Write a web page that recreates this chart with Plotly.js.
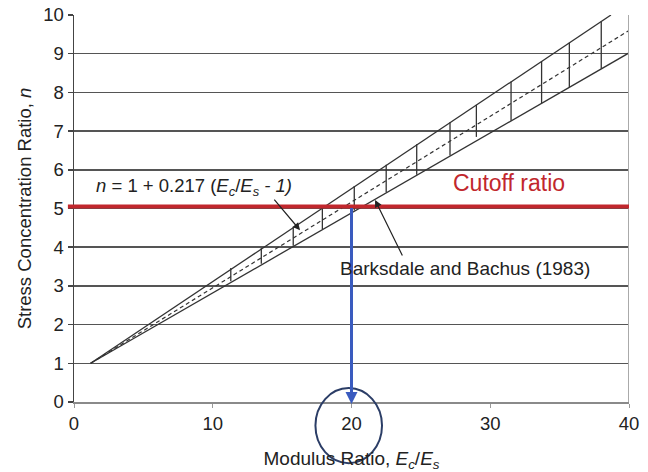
<!DOCTYPE html>
<html>
<head>
<meta charset="utf-8">
<script src="https://cdn.plot.ly/plotly-3.0.1.min.js"></script>
<style>html,body{margin:0;padding:0;background:#fff;}#chart{width:648px;height:472px;}</style>
</head>
<body>
<div id="chart"></div>
<script>
// Envelope lines (Barksdale and Bachus 1983)
const upperX = [1.2, 38.7];
const upperY = [1.0, 10.0];
const lowerX = [1.2, 40];
const lowerY = [1.0, 9.02];
// Fitted relation n = 1 + 0.217 (Ec/Es - 1), dashed
const fitX = [1.2, 40];
const fitY = [1.0, 9.6];
// Vertical range bars between envelopes
const segX    = [11.3, 13.5, 15.8, 17.9, 20.2, 22.5, 24.7, 27.1, 29.0, 31.5, 33.7, 35.7, 38.0];
const segLow  = [3.12, 3.57, 4.04, 4.47, 4.95, 5.42, 5.87, 6.37, 6.85, 7.27, 7.72, 8.13, 8.61];
const segHigh = [3.46, 3.98, 4.53, 5.03, 5.58, 6.13, 6.66, 7.23, 7.68, 8.28, 8.81, 9.28, 9.83];
// Cutoff ratio and read-off value
const cutoffN = 5.05;
const readX = 20;
// Axis ticks
const xTicks = [0, 10, 20, 30, 40];
const yTicks = [0, 1, 2, 3, 4, 5, 6, 7, 8, 9, 10];

const FONT = '"Liberation Sans", Arial, sans-serif';
const lineCol = '#333333';

const segXs = [], segYs = [];
segX.forEach((x, i) => { segXs.push(x, x, null); segYs.push(segLow[i], segHigh[i], null); });

const traces = [
  {x: upperX, y: upperY, mode: 'lines', line: {color: lineCol, width: 1.3}, hoverinfo: 'skip'},
  {x: lowerX, y: lowerY, mode: 'lines', line: {color: lineCol, width: 1.3}, hoverinfo: 'skip'},
  {x: fitX, y: fitY, mode: 'lines', line: {color: lineCol, width: 1.2, dash: '4px,3px'}, hoverinfo: 'skip'},
  {x: segXs, y: segYs, mode: 'lines', line: {color: lineCol, width: 1.3}, hoverinfo: 'skip', connectgaps: false}
];

const layout = {
  width: 648, height: 472,
  margin: {l: 74, r: 19, t: 15, b: 70},
  paper_bgcolor: '#ffffff', plot_bgcolor: '#ffffff',
  showlegend: false,
  font: {family: FONT, size: 18, color: '#222'},
  xaxis: {
    range: [0, 40], tickvals: xTicks, ticktext: xTicks.map(String),
    showgrid: false, zeroline: false,
    showline: true, linecolor: '#8a8a8a', linewidth: 1.5,
    ticks: 'outside', ticklen: 4, tickcolor: '#999', tickwidth: 1,
    tickfont: {size: 18.5, color: '#222'},
    title: {text: 'Modulus Ratio, <i>E<sub>c</sub></i>/<i>E<sub>s</sub></i>', font: {size: 19, color: '#222'}, standoff: 20}
  },
  yaxis: {
    range: [0, 10], tickvals: yTicks, ticktext: yTicks.map(String),
    showgrid: true, gridcolor: '#555', gridwidth: 1.5, zeroline: false,
    showline: true, linecolor: '#444', linewidth: 1.5,
    ticks: 'outside', ticklen: 5, tickcolor: '#444', tickwidth: 1.5,
    tickfont: {size: 18.5, color: '#222'},
    title: {text: 'Stress Concentration Ratio, <i>n</i>', font: {size: 18.5, color: '#222'}, standoff: 6}
  },
  shapes: [
    {type: 'line', xref: 'x', yref: 'y', x0: 40, x1: 40, y0: 0, y1: 10, line: {color: '#aaaaaa', width: 2}},
    {type: 'line', xref: 'paper', yref: 'y', x0: -0.011, x1: 1, y0: cutoffN, y1: cutoffN, line: {color: '#c1272d', width: 4}},
    {type: 'circle', xref: 'x', yref: 'paper', x0: 17.4, x1: 22.2, y0: -0.158, y1: 0.036, line: {color: '#2b3d66', width: 2}}
  ],
  annotations: [
    {x: readX, y: -0.05, ax: readX, ay: cutoffN, axref: 'x', ayref: 'y', xref: 'x', yref: 'y', text: '', showarrow: true,
     arrowhead: 2, arrowsize: 0.8, arrowwidth: 3, arrowcolor: '#3a5bbf'},
    {x: 8.65, y: 5.56, xref: 'x', yref: 'y', showarrow: false,
     text: '<i>n</i> = 1 + 0.217 (<i>E<sub>c</sub></i>/<i>E<sub>s</sub></i> <i>- 1)</i>', font: {size: 18.5, color: '#222'}},
    {x: 16.29, y: 4.44, xref: 'x', yref: 'y', ax: -27, ay: -32, text: '', showarrow: true,
     arrowhead: 2, arrowsize: 1.2, arrowwidth: 1.2, arrowcolor: '#222'},
    {x: 31.33, y: 5.66, xref: 'x', yref: 'y', showarrow: false, text: 'Cutoff ratio',
     font: {size: 23, color: '#c1272d'}},
    {x: 28.2, y: 3.44, xref: 'x', yref: 'y', showarrow: false, text: 'Barksdale and Bachus (1983)',
     font: {size: 19, color: '#222'}},
    {x: 21.7, y: 5.22, xref: 'x', yref: 'y', ax: 28, ay: 57, text: '', showarrow: true,
     arrowhead: 2, arrowsize: 1.2, arrowwidth: 1.2, arrowcolor: '#222'}
  ]
};

Plotly.newPlot('chart', traces, layout, {staticPlot: true, displayModeBar: false});
</script>
</body>
</html>
